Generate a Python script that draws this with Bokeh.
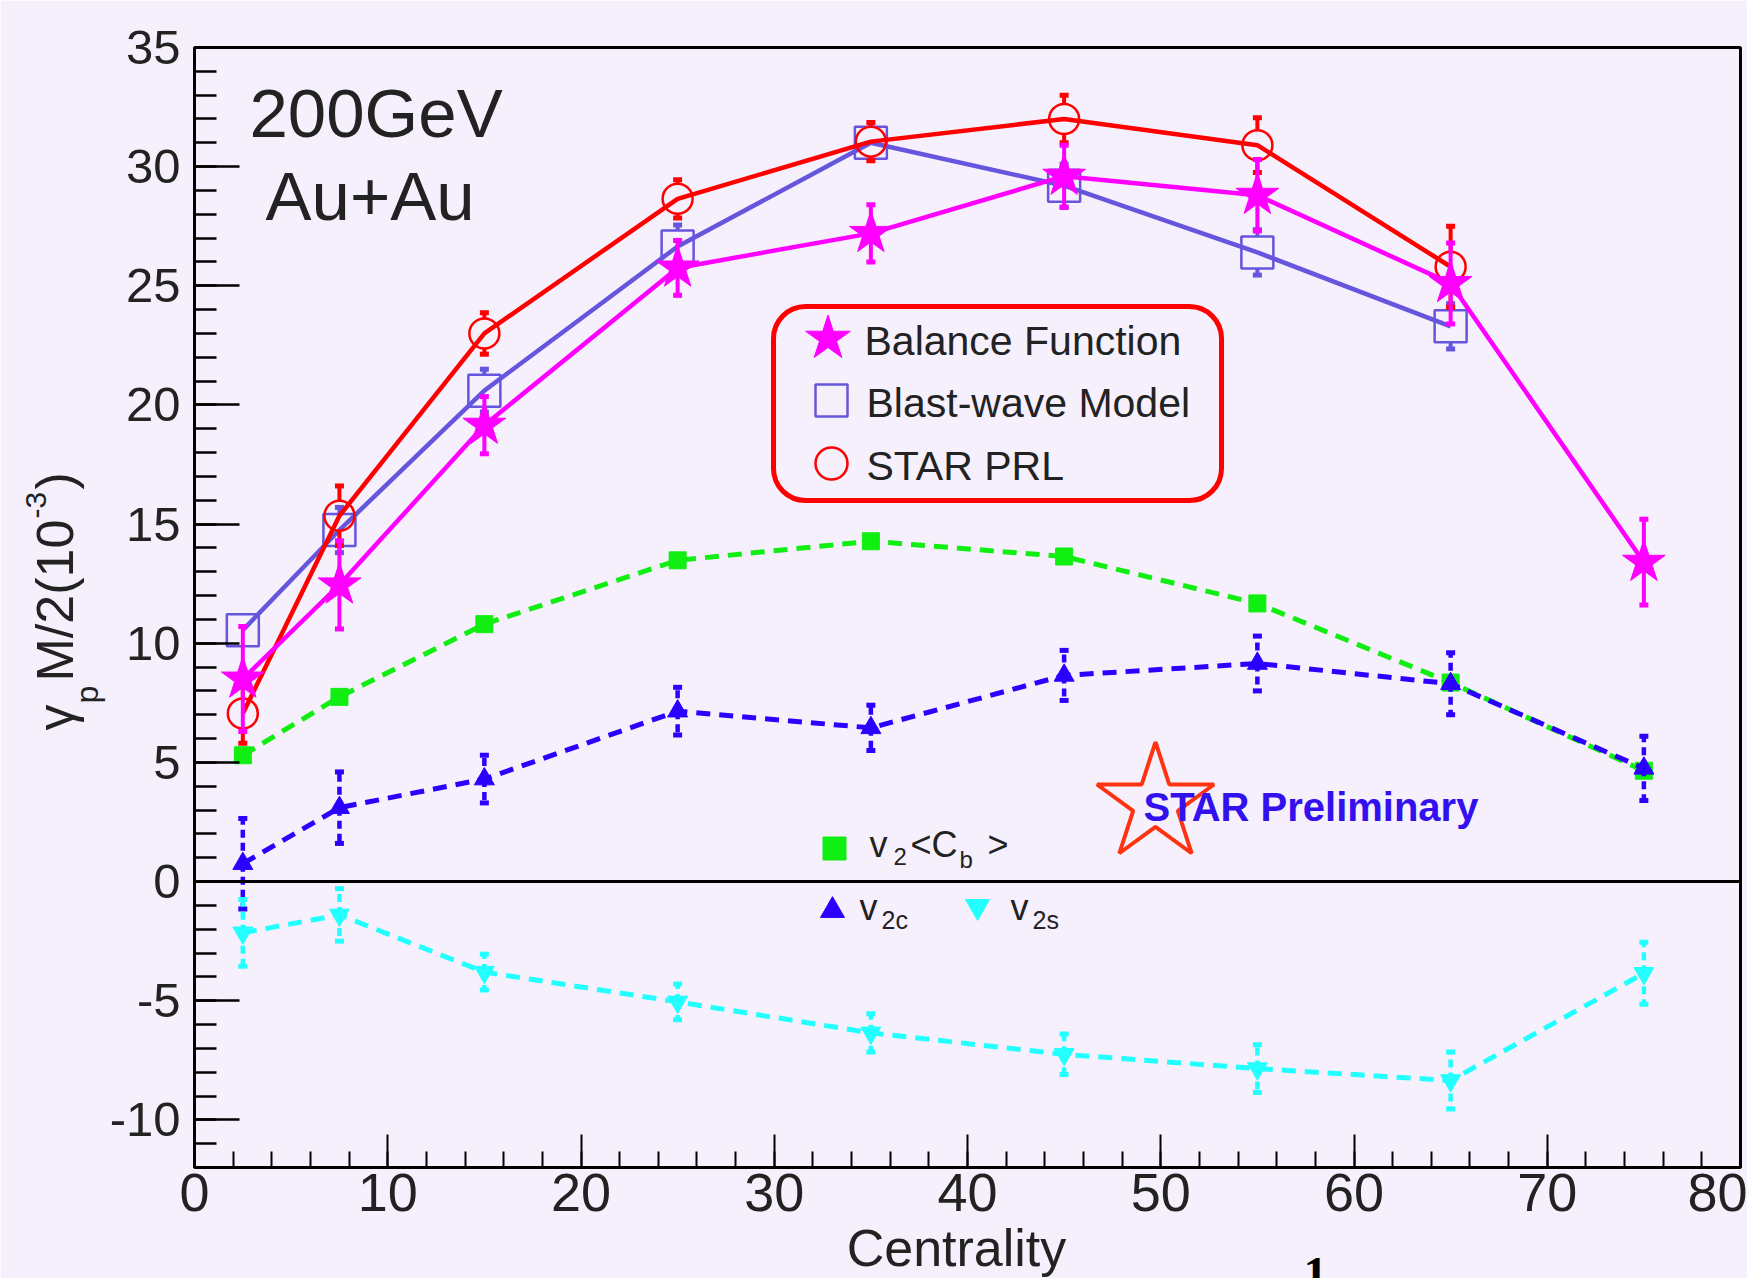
import numpy as np
from bokeh.plotting import figure
from bokeh.models import Range1d, SingleIntervalTicker, Span, BoxAnnotation
from bokeh.core.properties import value
from bokeh.embed import file_html
from bokeh.resources import INLINE

# ---------------- data ----------------
centrality = [2.5, 7.5, 15, 25, 35, 45, 55, 65, 75]

balance_fn = [8.5, 12.45, 19.15, 25.75, 27.2, 29.6, 28.8, 25.1, 13.4]
balance_err = [2.2, 1.85, 1.2, 1.15, 1.2, 1.3, 1.5, 1.7, 1.8]

blast_cent = [2.5, 7.5, 15, 25, 35, 45, 55, 65]
blast_wave = [10.55, 14.75, 20.6, 26.65, 31.0, 29.2, 26.4, 23.3]
blast_err = [0.5, 0.95, 0.9, 0.9, 0.6, 0.9, 0.95, 0.95]

prl_cent = [2.5, 7.5, 15, 25, 35, 45, 55, 65]
star_prl = [7.05, 15.35, 23.0, 28.65, 31.05, 32.0, 30.9, 25.8]
prl_err = [1.25, 1.25, 0.87, 0.8, 0.8, 1.0, 1.15, 1.7]

v2_cb = [5.3, 7.75, 10.8, 13.48, 14.28, 13.64, 11.67, 8.35, 4.65]

v2c = [0.75, 3.1, 4.3, 7.15, 6.45, 8.65, 9.15, 8.3, 4.75]
v2c_err = [1.9, 1.5, 1.0, 1.0, 0.95, 1.05, 1.15, 1.3, 1.35]

v2s = [-2.15, -1.4, -3.8, -5.05, -6.35, -7.25, -7.85, -8.35, -3.85]
v2s_err = [1.4, 1.1, 0.75, 0.75, 0.8, 0.85, 1.0, 1.2, 1.3]

x_ticks = [0, 10, 20, 30, 40, 50, 60, 70, 80]
y_ticks = [-10, -5, 0, 5, 10, 15, 20, 25, 30, 35]

# ---------------- style ----------------
FONT = "Liberation Sans"
TXT = "#222222"
BG = "#F6F0FD"
RED = "#FF0000"
MAG = "#FF00FF"
SLATE = "#6655DD"
GREEN = "#11EE11"
BLUE = "#2A00FF"
CYAN = "#22FFFF"

W, H = 1747, 1278
FL, FR, FT, FB = 194, 1740, 47, 1167
X0, X1, Y0, Y1 = 0, 80, -12, 35
PXX = (FR - FL) / (X1 - X0)
PXY = (FB - FT) / (Y1 - Y0)


def dx(px):
    return X0 + (px - FL) / PXX


def dy(py):
    return Y1 - (py - FT) / PXY


p = figure(width=W, height=H, x_range=Range1d(X0, X1), y_range=Range1d(Y0, Y1),
           output_backend="svg", toolbar_location=None,
           min_border_left=FL, min_border_right=W - FR,
           min_border_top=FT, min_border_bottom=H - FB)
p.background_fill_color = BG
p.border_fill_color = BG
p.outline_line_color = "black"
p.outline_line_width = 3
p.grid.visible = False

xa = p.xaxis[0]
xa.ticker = SingleIntervalTicker(interval=10, num_minor_ticks=5)
xa.major_tick_in = 33
xa.major_tick_out = 0
xa.minor_tick_in = 16
xa.minor_tick_out = 0
xa.major_tick_line_width = 2
xa.minor_tick_line_width = 2
xa.axis_line_width = 3
xa.major_label_text_font = FONT
xa.major_label_text_font_size = "54px"
xa.major_label_text_color = TXT
xa.major_label_standoff = 6
xa.major_label_overrides = {t: str(t) for t in x_ticks}

ya = p.yaxis[0]
ya.ticker = SingleIntervalTicker(interval=5, num_minor_ticks=5)
ya.major_tick_in = 45
ya.major_tick_out = 0
ya.minor_tick_in = 22
ya.minor_tick_out = 0
ya.major_tick_line_width = 2.5
ya.minor_tick_line_width = 2.5
ya.axis_line_width = 3
ya.major_label_text_font = FONT
ya.major_label_text_font_size = "49px"
ya.major_label_text_color = TXT
ya.major_label_standoff = 14
ya.major_label_overrides = {t: str(t) for t in y_ticks}

p.add_layout(Span(location=0, dimension="width", line_color="black", line_width=3))

LW = 4.5
DASH = "14 9"


def errbars(xs, ys, es, color, gap_px=0.0, dash="solid", lw=4):
    gap = gap_px / PXY
    ux, uy0, uy1, lx, ly0, ly1 = [], [], [], [], [], []
    for x, y, e in zip(xs, ys, es):
        if e > gap:
            ux.append(x); uy0.append(y + gap); uy1.append(y + e)
            lx.append(x); ly0.append(y - gap); ly1.append(y - e)
    p.segment(x0=ux, y0=uy0, x1=ux, y1=uy1, line_color=color, line_width=lw, line_dash=dash)
    p.segment(x0=lx, y0=ly0, x1=lx, y1=ly1, line_color=color, line_width=lw, line_dash=dash)
    p.scatter(x=ux + lx, y=uy1 + ly1, marker="dash", size=9, line_color=color, line_width=5)


# lower, dashed series
p.line(centrality, v2_cb, line_color=GREEN, line_width=5, line_dash=DASH)
p.scatter(centrality, v2_cb, marker="square", size=17, fill_color=GREEN, line_color=GREEN)

errbars(centrality, v2c, v2c_err, BLUE, dash="8 5", lw=4.5)
p.line(centrality, v2c, line_color=BLUE, line_width=5, line_dash=DASH)
p.scatter(centrality, v2c, marker="triangle", size=20, fill_color=BLUE, line_color=BLUE)

errbars(centrality, v2s, v2s_err, CYAN, dash="8 5", lw=4.5)
p.line(centrality, v2s, line_color=CYAN, line_width=5, line_dash=DASH)
p.scatter(centrality, v2s, marker="inverted_triangle", size=20, fill_color=CYAN, line_color=CYAN)

# upper, solid series
errbars(blast_cent, blast_wave, blast_err, SLATE, gap_px=16)
p.line(blast_cent, blast_wave, line_color=SLATE, line_width=LW)
p.scatter(blast_cent, blast_wave, marker="square", size=32, fill_color=None,
          line_color=SLATE, line_width=2.5)

errbars(prl_cent, star_prl, prl_err, RED, gap_px=15)
p.line(prl_cent, star_prl, line_color=RED, line_width=LW)
p.scatter(prl_cent, star_prl, marker="circle", size=30, fill_color=None,
          line_color=RED, line_width=2.5)

errbars(centrality, balance_fn, balance_err, MAG)
p.line(centrality, balance_fn, line_color=MAG, line_width=LW)
p.scatter(centrality, balance_fn, marker="star", size=45, fill_color=MAG, line_color=MAG)

# baseline correction for the text renderer (fraction of font size)
SHIFT_H = 0.35
SHIFT_R = 0.5


def label(text, px, py, size, font=FONT, color=TXT, style="normal", align="left", angle=0.0):
    if angle == 0.0:
        py = py - SHIFT_H * size
    else:
        px = px - SHIFT_R * size
    p.text(x=[dx(px)], y=[dy(py)], text=[text], text_font=value(font),
           text_font_size=value(f"{size}px"), text_color=color,
           text_font_style=style, text_align=align,
           text_baseline="alphabetic", angle=angle, level="overlay")


# energy / system
label("200GeV", 249, 137, 69)
label("Au+Au", 265, 220, 69)

# main legend
p.add_layout(BoxAnnotation(left=dx(773), right=dx(1221), top=dy(306), bottom=dy(500),
                           fill_alpha=0, line_color=RED, line_alpha=1.0, line_width=5,
                           border_radius=32))
p.scatter([dx(827.5)], [dy(338)], marker="star", size=47, fill_color=MAG, line_color=MAG)
p.scatter([dx(831)], [dy(400)], marker="square", size=32, fill_color=None,
          line_color=SLATE, line_width=2.5)
p.scatter([dx(831)], [dy(463)], marker="circle", size=32, fill_color=None,
          line_color=RED, line_width=2.5)
label("Balance Function", 864, 355, 41)
label("Blast-wave Model", 866, 417, 41)
label("STAR PRL", 866, 480, 41)

# lower legend
p.scatter([dx(834)], [dy(848)], marker="square", size=23, fill_color=GREEN, line_color=GREEN)
label("v", 869, 857, 36)
label("2", 893, 864, 24)
label("<C", 910, 857, 36)
label("b", 959, 867, 24)
label(">", 987, 857, 36)

p.scatter([dx(832)], [dy(910)], marker="triangle", size=24, fill_color=BLUE, line_color=BLUE)
label("v", 859, 920, 36)
label("2c", 881, 928, 25)
p.scatter([dx(977)], [dy(906)], marker="inverted_triangle", size=24, fill_color=CYAN,
          line_color=CYAN)
label("v", 1010, 920, 36)
label("2s", 1032, 928, 25)

# STAR Preliminary logo
p.scatter([dx(1155)], [dy(803)], marker="star", size=123, fill_color=None,
          line_color="#FF3311", line_width=4)
label("STAR Preliminary", 1143, 820, 40, color="#3311EE", style="bold")

# axis titles (outside the frame)
label("Centrality", 956, 1266, 52, align="center")
label("1", 1315, 1290, 48, font="Liberation Serif", color="black", style="bold", align="center")

A = np.pi / 2
label("γ", 80, 730, 52, angle=A)
label("p", 102, 703, 32, angle=A)
label("M/2(10", 80, 681, 52, angle=A)
label("-3", 50, 518, 30, angle=A)
label(")", 80, 489, 52, angle=A)

open("out.html", "w").write(file_html(p, INLINE))
